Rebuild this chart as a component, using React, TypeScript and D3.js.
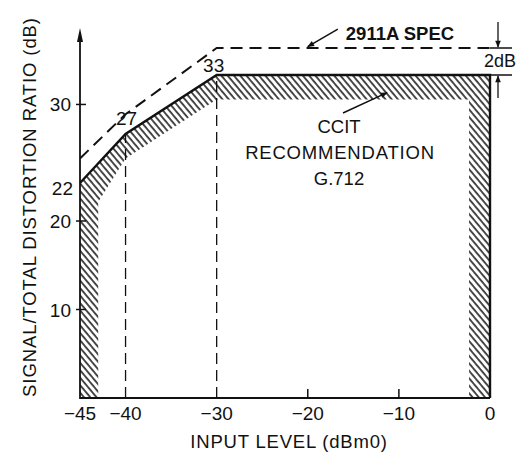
import React from "react";
import * as d3 from "d3";

// ---- data ----
const xTickValues = [-45, -40, -30, -20, -10, 0];
const yTickValues = [10, 20, 30];
const xMinorTicks = [-20, -10];
// CCITT G.712 mask: outer (solid) boundary and inner edge of the hatched band
const ccittOuter: [number, number][] = [[-45, 0], [-45, 22], [-40, 27], [-30, 33], [0, 33], [0, 0]];
const ccittInner: [number, number][] = [[-43, 0], [-43, 21], [-40, 24.5], [-30, 30.5], [-2.3, 30.5], [-2.3, 0]];
// 2911A spec line (dashed)
const specLine: [number, number][] = [[-45, 24.5], [-40, 29], [-30, 35], [0, 35]];
// breakpoint labels
const breakLabels = [
  { x: -45, y: 22, label: "22" },
  { x: -40, y: 27, label: "27" },
  { x: -30, y: 33, label: "33" },
];
const guideLevels: [number, number][] = [[-40, 27], [-30, 33]];

const W = 516;
const H = 452;
const FONT = "'Liberation Sans', Arial, Helvetica, sans-serif";

export default function App() {
  // schematic (broken) dB axis as in the original drawing
  const x = d3.scaleLinear().domain([-45, 0]).range([80, 490]);
  const y = d3.scaleLinear().domain([0, 20, 22, 33, 35]).range([398, 221, 183, 75, 48]);

  const line = d3.line<[number, number]>().x((d) => x(d[0])).y((d) => y(d[1]));
  const closed = (pts: [number, number][]) => line(pts) + "Z";
  const hatchPath = closed(ccittOuter) + closed(ccittInner);
  const outerEdge = line(ccittOuter.slice(1));

  const x0 = x(-45);
  const y0 = y(0);
  const fmt = (v: number) => (v < 0 ? "\u2212" + Math.abs(v) : String(v));

  return (
    <div style={{ position: "fixed", left: 0, top: 0 }}>
      <svg width={W} height={H} viewBox={`0 0 ${W} ${H}`} style={{ display: "block", background: "#fff" }} fontFamily={FONT}>
        <defs>
          <pattern id="hatch" width="4.8" height="10" patternUnits="userSpaceOnUse" patternTransform="rotate(-40)">
            <line x1="1" y1="-2" x2="1" y2="12" stroke="#111" strokeWidth="1.5" />
          </pattern>
          <marker id="arr" viewBox="0 0 10 10" refX="9" refY="5" markerWidth="9" markerHeight="7" orient="auto-start-reverse" markerUnits="userSpaceOnUse">
            <path d="M0,1 L10,5 L0,9 Z" fill="#111" />
          </marker>
        </defs>

        {/* hatched CCITT band */}
        <path d={hatchPath} fill="url(#hatch)" fillRule="evenodd" stroke="none" />
        <path d={outerEdge || ""} fill="none" stroke="#111" strokeWidth={2.4} strokeLinejoin="miter" />

        {/* dashed guides to breakpoints */}
        {guideLevels.map(([gx, gy]) => (
          <line key={gx} x1={x(gx)} x2={x(gx)} y1={y0} y2={y(gy)} stroke="#111" strokeWidth={1.3} strokeDasharray="11 6" />
        ))}

        {/* 2911A spec dashed line */}
        <path d={line(specLine) || ""} fill="none" stroke="#111" strokeWidth={2} strokeDasharray="12 7" />

        {/* axes */}
        <line x1={x0} x2={x(0)} y1={y0} y2={y0} stroke="#111" strokeWidth={2.2} />
        <line x1={x0} x2={x0} y1={y0 + 1} y2={36} stroke="#111" strokeWidth={1.8} />
        <path d={`M${x0},28 L${x0 - 3},42 L${x0 + 3},42 Z`} fill="#111" />

        {yTickValues.map((v) => (
          <g key={v}>
            <line x1={x0 - 4} x2={x0 + 6} y1={y(v)} y2={y(v)} stroke="#111" strokeWidth={1.5} />
            <text x={x0 - 9} y={y(v) + 7} textAnchor="end" fontSize={19} fill="#111">{v}</text>
          </g>
        ))}
        {xMinorTicks.map((v) => (
          <line key={v} x1={x(v)} x2={x(v)} y1={y0} y2={y0 - 9} stroke="#111" strokeWidth={1.5} />
        ))}
        {xTickValues.map((v) => (
          <text key={v} x={x(v)} y={y0 + 22} textAnchor="middle" fontSize={19} fill="#111">{fmt(v)}</text>
        ))}

        {/* breakpoint labels */}
        <text x={x0 - 7} y={y(breakLabels[0].y) + 12} textAnchor="end" fontSize={19} fill="#111">{breakLabels[0].label}</text>
        <text x={x(breakLabels[1].x) + 1} y={y(breakLabels[1].y) - 9} textAnchor="middle" fontSize={19} fill="#111">{breakLabels[1].label}</text>
        <text x={x(breakLabels[2].x) - 3} y={y(breakLabels[2].y) - 3} textAnchor="middle" fontSize={19} fill="#111">{breakLabels[2].label}</text>

        {/* axis titles */}
        <text x={289} y={448} textAnchor="middle" fontSize={18.5} fill="#111" letterSpacing="0.8">INPUT LEVEL (dBm0)</text>
        <text transform={`translate(36,207) rotate(-90)`} textAnchor="middle" fontSize={18.5} fill="#111" letterSpacing="0.9">
          SIGNAL/TOTAL DISTORTION RATIO (dB)
        </text>

        {/* annotations */}
        <text x={400} y={40} textAnchor="middle" fontSize={18.5} fontWeight="bold" fill="#111">2911A SPEC</text>
        <line x1={x(-16.7)} y1={y(36.4)} x2={x(-20)} y2={y(35.1)} stroke="#111" strokeWidth={1.5} markerEnd="url(#arr)" />

        <text x={339} y={133} textAnchor="middle" fontSize={18.5} fill="#111">CCIT</text>
        <text x={340} y={159} textAnchor="middle" fontSize={18.5} fill="#111" letterSpacing="0.8">RECOMMENDATION</text>
        <text x={339} y={185} textAnchor="middle" fontSize={18.5} fill="#111">G.712</text>
        <line x1={343} y1={113} x2={x(-11.3)} y2={y(31.2)} stroke="#111" strokeWidth={1.5} markerEnd="url(#arr)" />

        {/* 2 dB marker */}
        <line x1={x(0)} x2={512} y1={y(35)} y2={y(35)} stroke="#111" strokeWidth={1.5} />
        <line x1={x(0) - 4} x2={512} y1={y(33)} y2={y(33)} stroke="#111" strokeWidth={1.5} />
        <line x1={498} x2={498} y1={22} y2={y(35) - 1} stroke="#111" strokeWidth={1.3} markerEnd="url(#arr)" />
        <line x1={498} x2={498} y1={98} y2={y(33) + 1} stroke="#111" strokeWidth={1.3} markerEnd="url(#arr)" />
        <text x={500} y={67} textAnchor="middle" fontSize={18} fill="#111">2dB</text>
      </svg>
    </div>
  );
}
